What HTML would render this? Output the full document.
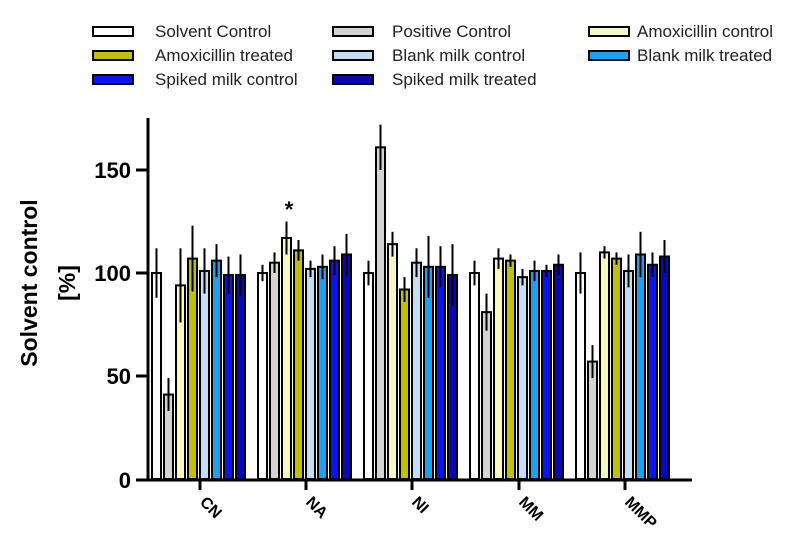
<!DOCTYPE html>
<html><head><meta charset="utf-8"><style>body{margin:0;background:#fff}svg{display:block}text{font-family:"Liberation Sans",Arial,sans-serif}</style></head>
<body>
<svg id="s" width="800" height="546" xmlns="http://www.w3.org/2000/svg">
<g font-size="17" fill="#222">
<rect x="93" y="27" width="40" height="9" fill="#fff" stroke="#000" stroke-width="2"/><text x="155" y="37">Solvent Control</text>
<rect x="93" y="51" width="40" height="9" fill="#c0c000" stroke="#000" stroke-width="2"/><text x="155" y="61">Amoxicillin treated</text>
<rect x="93" y="75" width="40" height="9" fill="#0a14f0" stroke="#000" stroke-width="2"/><text x="155" y="85">Spiked milk control</text>
<rect x="333" y="27" width="40" height="9" fill="#d3d3d3" stroke="#000" stroke-width="2"/><text x="392" y="37">Positive Control</text>
<rect x="333" y="51" width="40" height="9" fill="#c4dcf4" stroke="#000" stroke-width="2"/><text x="392" y="61">Blank milk control</text>
<rect x="333" y="75" width="40" height="9" fill="#0808b8" stroke="#000" stroke-width="2"/><text x="392" y="85">Spiked milk treated</text>
<rect x="589" y="27" width="40" height="9" fill="#f5f8c0" stroke="#000" stroke-width="2"/><text x="637" y="37">Amoxicillin control</text>
<rect x="589" y="51" width="40" height="9" fill="#1ea0f0" stroke="#000" stroke-width="2"/><text x="637" y="61">Blank milk treated</text>
</g>
<g id="bars"></g>
<line x1="148" y1="118" x2="148" y2="481" stroke="#000" stroke-width="3"/>
<line x1="147" y1="480" x2="692" y2="480" stroke="#000" stroke-width="3"/>
<g stroke="#000" stroke-width="3">
<line x1="136" y1="170" x2="148" y2="170"/><line x1="136" y1="273" x2="148" y2="273"/><line x1="136" y1="376" x2="148" y2="376"/><line x1="136" y1="480" x2="148" y2="480"/>
<line x1="200" y1="480" x2="200" y2="490"/><line x1="306" y1="480" x2="306" y2="490"/><line x1="412" y1="480" x2="412" y2="490"/><line x1="519" y1="480" x2="519" y2="490"/><line x1="625" y1="480" x2="625" y2="490"/>
</g>
<g font-size="22" font-weight="bold" text-anchor="end" fill="#000">
<text x="131" y="178">150</text><text x="131" y="281">100</text><text x="131" y="384">50</text><text x="131" y="488">0</text>
</g>
<g font-size="23" font-weight="bold" text-anchor="middle" fill="#000">
<text transform="translate(37,283) rotate(-90)">Solvent control</text>
<text transform="translate(75,283) rotate(-90)">[%]</text>
</g>
<g font-size="16" font-weight="bold" fill="#000">
<text transform="translate(199,503) rotate(45)">CN</text>
<text transform="translate(305,503) rotate(45)">NA</text>
<text transform="translate(411,503) rotate(45)">NI</text>
<text transform="translate(518,503) rotate(45)">MM</text>
<text transform="translate(624,503) rotate(45)">MMP</text>
</g>
<text x="289" y="217" font-size="22" font-weight="bold" text-anchor="middle">*</text>
</svg>
<script>
var cols=["#fff","#d3d3d3","#f5f8c0","#c0c000","#c4dcf4","#1ea0f0","#0a14f0","#0808b8"];
var starts=[152,258,364,470,576];
var v=[[100,41,94,107,101,106,99,99],[100,105,117,111,102,103,106,109],[100,161,114,92,105,103,103,99],[100,81,107,106,98,101,101,104],[100,57,110,107,101,109,104,108]];
var e=[[112,49,112,123,112,114,108,109],[104,110,125,116,106,109,113,119],[106,172,120,98,112,118,113,114],[106,90,112,109,102,106,104,109],[110,65,113,110,109,120,110,116]];
var s="";function Y(a){return 479-a*2.06;}
for(var g=0;g<5;g++)for(var i=0;i<8;i++){var x=starts[g]+i*12,y=Y(v[g][i]),t=Y(e[g][i]),b=y+(y-t);
s+='<rect x="'+x+'" y="'+y+'" width="9" height="'+(479-y)+'" fill="'+cols[i]+'" stroke="#000" stroke-width="2"/>';
s+='<line x1="'+(x+4.5)+'" y1="'+t+'" x2="'+(x+4.5)+'" y2="'+b+'" stroke="#000" stroke-width="2"/>';}
document.getElementById("bars").innerHTML=s;
</script>
</body></html>
